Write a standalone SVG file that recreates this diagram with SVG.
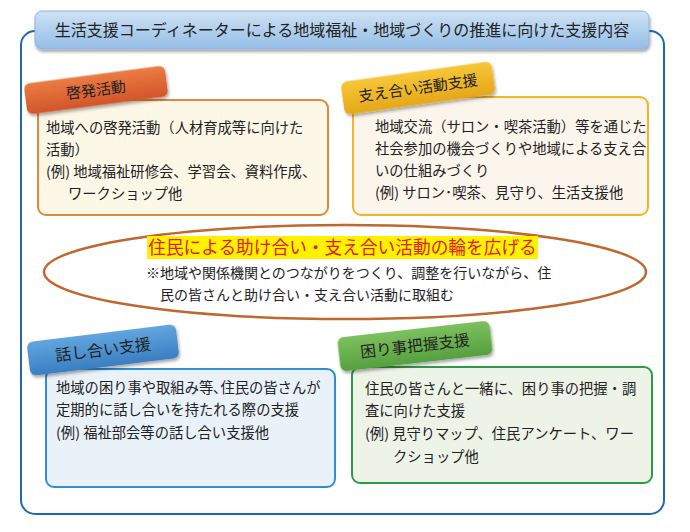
<svg xmlns="http://www.w3.org/2000/svg" width="690" height="532" viewBox="0 0 690 532">
<defs>
<style>
.t{font-family:"Noto Sans CJK JP","Noto Sans CJK SC",sans-serif;fill:#222;}
.body{font-size:14.3px;}
.tab{font-size:15px;text-anchor:middle;}
.box{stroke-width:2;}
</style>
<linearGradient id="gTitle" x1="0" y1="0" x2="0" y2="1"><stop offset="0" stop-color="#cfe2f4"/><stop offset="1" stop-color="#94bde6"/></linearGradient>
<linearGradient id="gOr" x1="0" y1="0" x2="0" y2="1"><stop offset="0" stop-color="#eb7c44"/><stop offset="1" stop-color="#d2552a"/></linearGradient>
<linearGradient id="gGo" x1="0" y1="0" x2="0" y2="1"><stop offset="0" stop-color="#f6c73a"/><stop offset="1" stop-color="#e6a718"/></linearGradient>
<linearGradient id="gBl" x1="0" y1="0" x2="0" y2="1"><stop offset="0" stop-color="#62a6de"/><stop offset="1" stop-color="#3a7ec3"/></linearGradient>
<linearGradient id="gGr" x1="0" y1="0" x2="0" y2="1"><stop offset="0" stop-color="#7ec060"/><stop offset="1" stop-color="#55a03e"/></linearGradient>
<filter id="sh" x="-10%" y="-30%" width="120%" height="170%"><feDropShadow dx="1" dy="2.5" stdDeviation="1.8" flood-color="#000" flood-opacity="0.35"/></filter>
</defs>

<g id="frame">
<rect x="21" y="31" width="643" height="483" rx="14" fill="#fff" stroke="#2166b3" stroke-width="2"/>
</g>

<g id="title">
<rect x="35" y="11" width="614" height="38" rx="7" fill="url(#gTitle)" stroke="#8fb4dc" stroke-width="1" filter="url(#sh)"/>
<text class="t" x="342" y="36" font-size="16" text-anchor="middle">生活支援コーディネーターによる地域福祉・地域づくりの推進に向けた支援内容</text>
</g>

<g id="connectors"></g>

<g id="node-keihatsu">
<rect class="box" x="38" y="100" width="290" height="115" rx="8" fill="#fcf7e7" stroke="#e0893a"/>
<g transform="translate(96,90) rotate(-7.5)">
<rect x="-71" y="-15.5" width="142" height="31" rx="6" fill="url(#gOr)" filter="url(#sh)"/>
<text class="t tab" x="0" y="5.5">啓発活動</text>
</g>
<text class="t body" x="46" y="133">地域への啓発活動（人材育成等に向けた</text>
<text class="t body" x="46" y="155">活動）</text>
<text class="t body" x="46" y="177">(例) 地域福祉研修会、学習会、資料作成、</text>
<text class="t body" x="68" y="199">ワークショップ他</text>
</g>

<g id="node-sasaeai">
<rect class="box" x="353" y="97" width="295" height="118" rx="8" fill="#fbf5ec" stroke="#f0b52a"/>
<g transform="translate(418,88) rotate(-8)">
<rect x="-76" y="-16.5" width="152" height="33" rx="6" fill="url(#gGo)" filter="url(#sh)"/>
<text class="t tab" x="0" y="5.5">支え合い活動支援</text>
</g>
<text class="t body" x="375" y="132">地域交流（サロン・喫茶活動）等を通じた</text>
<text class="t body" x="375" y="154">社会参加の機会づくりや地域による支え合</text>
<text class="t body" x="375" y="176">いの仕組みづくり</text>
<text class="t body" x="375" y="198">(例) サロン･喫茶、見守り、生活支援他</text>
</g>

<g id="node-center">
<ellipse cx="345" cy="272" rx="301" ry="47" fill="#fff" stroke="#c0672e" stroke-width="2.5"/>
<rect x="147" y="236" width="391" height="23" fill="#fff200"/>
<text class="t" x="342.5" y="254" font-size="17.7" text-anchor="middle" style="fill:#e0201c">住民による助け合い・支え合い活動の輪を広げる</text>
<text class="t" x="146" y="278" font-size="14">※地域や関係機関とのつながりをつくり、調整を行いながら、住</text>
<text class="t" x="160" y="300" font-size="14">民の皆さんと助け合い・支え合い活動に取組む</text>
</g>

<g id="node-hanashiai">
<rect class="box" x="46" y="369" width="289" height="118" rx="8" fill="#e9f1f9" stroke="#2e8fd6"/>
<g transform="translate(103,350) rotate(-7)">
<rect x="-75" y="-17" width="150" height="34" rx="6" fill="url(#gBl)" filter="url(#sh)"/>
<text class="t tab" x="0" y="5.5" style="font-size:16px">話し合い支援</text>
</g>
<text class="t body" x="56" y="393">地域の困り事や取組み等､住民の皆さんが</text>
<text class="t body" x="56" y="415">定期的に話し合いを持たれる際の支援</text>
<text class="t body" x="56" y="438">(例) 福祉部会等の話し合い支援他</text>
</g>

<g id="node-komarigoto">
<rect class="box" x="352" y="367" width="300" height="116" rx="8" fill="#eef3e8" stroke="#2f9a45"/>
<g transform="translate(415,346) rotate(-6.5)">
<rect x="-76.5" y="-17" width="153" height="34" rx="6" fill="url(#gGr)" filter="url(#sh)"/>
<text class="t tab" x="0" y="5.5" style="font-size:15.7px">困り事把握支援</text>
</g>
<text class="t body" x="365" y="394">住民の皆さんと一緒に、困り事の把握・調</text>
<text class="t body" x="365" y="416">査に向けた支援</text>
<text class="t body" x="365" y="439">(例) 見守りマップ、住民アンケート、ワー</text>
<text class="t body" x="393" y="462">クショップ他</text>
</g>
</svg>
